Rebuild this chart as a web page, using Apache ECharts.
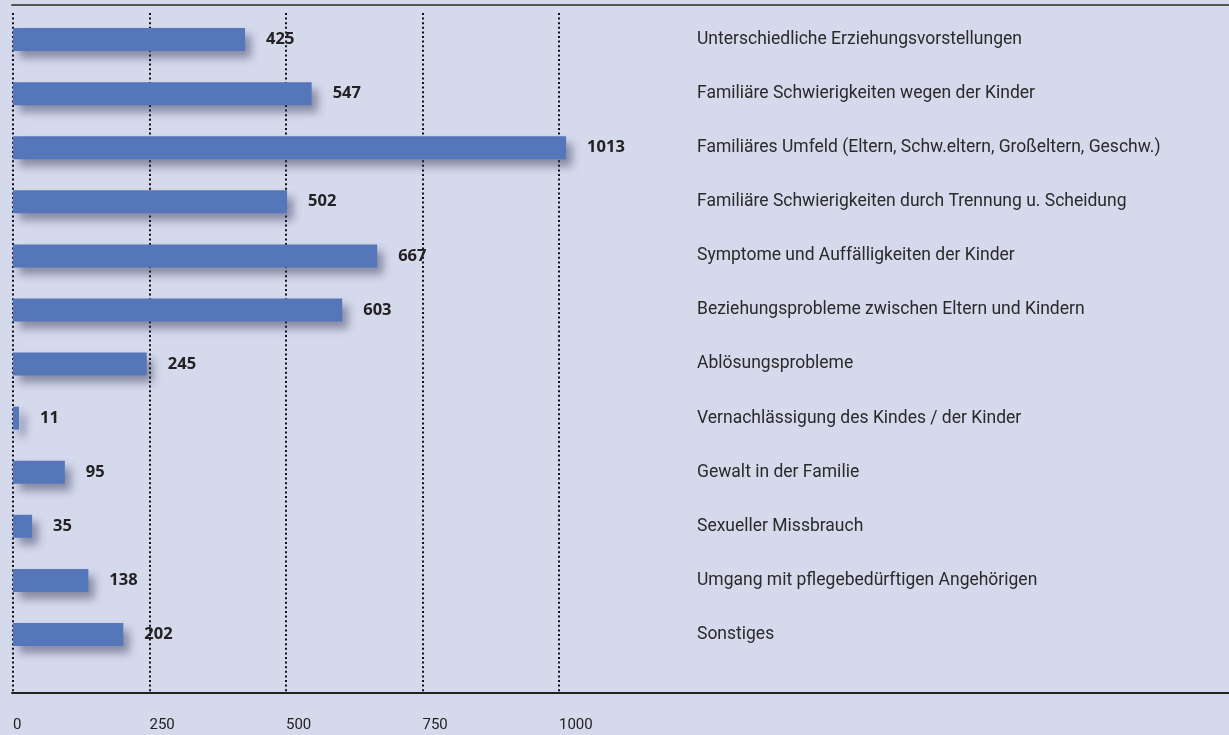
<!DOCTYPE html>
<html>
<head>
<meta charset="utf-8">
<script src="https://cdn.jsdelivr.net/npm/echarts@6/dist/echarts.min.js"></script>
<style>
  html, body { margin: 0; padding: 0; background: #d5d9ec; }
  #chart { width: 1229px; height: 735px; }
</style>
</head>
<body>
<div id="chart"></div>
<script>
const categories = [
  'Unterschiedliche Erziehungsvorstellungen',
  'Familiäre Schwierigkeiten wegen der Kinder',
  'Familiäres Umfeld (Eltern, Schw.eltern, Großeltern, Geschw.)',
  'Familiäre Schwierigkeiten durch Trennung u. Scheidung',
  'Symptome und Auffälligkeiten der Kinder',
  'Beziehungsprobleme zwischen Eltern und Kindern',
  'Ablösungsprobleme',
  'Vernachlässigung des Kindes / der Kinder',
  'Gewalt in der Familie',
  'Sexueller Missbrauch',
  'Umgang mit pflegebedürftigen Angehörigen',
  'Sonstiges'
]
const counts = [425, 547, 1013, 502, 667, 603, 245, 11, 95, 35, 138, 202]
const axisMin = 0
const axisMax = 1000
const tickStep = 250

const chart = echarts.init(document.getElementById('chart'))

chart.setOption({
  backgroundColor: '#d5d9ec',
  animation: false,
  grid: [
    // bars
    { left: 13, width: 546, top: 12.5, height: 649 },
    // dotted gridlines + tick labels
    { left: 13, width: 546, top: 13, bottom: 42 },
    // frame lines
    { left: 12, right: 0, top: 5, bottom: 42 }
  ],
  xAxis: [
    {
      gridIndex: 0, type: 'value', min: axisMin, max: axisMax,
      show: false
    },
    {
      gridIndex: 1, type: 'value', min: axisMin, max: axisMax, interval: tickStep,
      axisLine: { show: false },
      axisTick: { show: false },
      splitLine: { show: true, lineStyle: { color: '#111', width: 2, type: [2, 2.6] } },
      axisLabel: {
        align: 'left', margin: 25,
        formatter: v => String(v),
        fontFamily: 'Liberation Sans Narrow, Roboto, sans-serif',
        fontSize: 15, color: '#222'
      }
    },
    {
      gridIndex: 2, type: 'value', min: 0, max: 1, position: 'bottom',
      axisLine: { show: true, lineStyle: { color: '#222', width: 2 } },
      axisTick: { show: false }, axisLabel: { show: false }, splitLine: { show: false }
    },
    {
      gridIndex: 2, type: 'value', min: 0, max: 1, position: 'top',
      axisLine: { show: true, lineStyle: { color: '#555', width: 2 } },
      axisTick: { show: false }, axisLabel: { show: false }, splitLine: { show: false }
    }
  ],
  yAxis: [
    {
      gridIndex: 0, type: 'category', data: categories, inverse: true, position: 'right',
      axisLine: { show: false }, axisTick: { show: false }, splitLine: { show: false },
      axisLabel: {
        align: 'left', margin: 138,
        fontFamily: 'Roboto, sans-serif', fontSize: 17.5, color: '#2a2a2a'
      }
    },
    { gridIndex: 1, type: 'value', show: false },
    { gridIndex: 2, type: 'value', show: false }
  ],
  series: [{
    type: 'bar',
    xAxisIndex: 0,
    yAxisIndex: 0,
    data: counts,
    barWidth: 23,
    clip: false,
    itemStyle: {
      color: '#5676ba',
      shadowColor: 'rgba(40,45,80,0.45)',
      shadowBlur: 9,
      shadowOffsetX: 6,
      shadowOffsetY: 7
    },
    label: {
      show: true,
      position: 'right',
      distance: 21,
      fontFamily: 'Open Sans, sans-serif',
      fontWeight: 'bold',
      fontSize: 16.5,
      color: '#222'
    }
  }]
})
</script>
</body>
</html>
